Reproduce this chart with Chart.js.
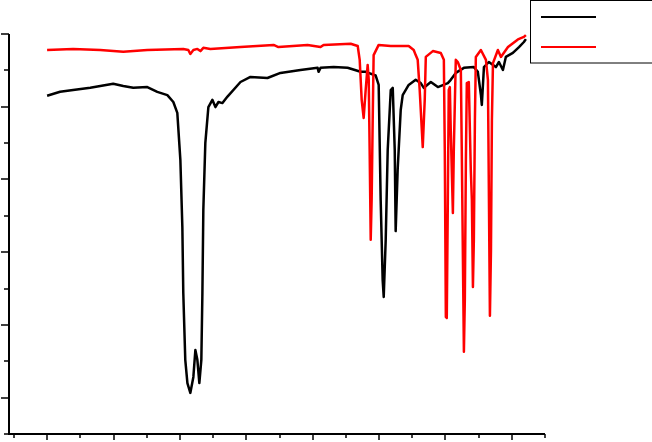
<!DOCTYPE html>
<html>
<head>
<meta charset="utf-8">
<script src="https://cdn.jsdelivr.net/npm/chart.js@4"></script>
<style>
  html, body { margin: 0; padding: 0; background: #fff; }
  #wrap { width: 652px; height: 442px; position: relative; }
</style>
</head>
<body>
<div id="wrap"><canvas id="irChart"></canvas></div>
<script>
// Black spectrum (wavenumber, cm-1 / transmittance, %)
const blackWavenumber = [3751, 3653, 3555, 3426, 3253, 3177, 3102, 2996, 2921, 2845, 2800, 2770, 2747, 2732, 2725, 2710, 2694, 2672, 2649, 2634, 2619, 2604, 2589, 2581, 2574, 2559, 2536, 2506, 2483, 2460, 2430, 2392, 2294, 2219, 2091, 1993, 1842, 1713, 1706, 1691, 1592, 1487, 1389, 1351, 1276, 1253, 1238, 1223, 1215, 1200, 1185, 1162, 1147, 1132, 1125, 1110, 1087, 1072, 1027, 974, 936, 913, 860, 807, 732, 710, 672, 611, 536, 506, 483, 476, 460, 423, 370, 347, 317, 295, 242, 196, 159, 144];
const blackT = [93.0, 94.1, 94.6, 95.2, 96.3, 95.7, 95.2, 95.4, 94.1, 93.2, 91.3, 88.3, 75.4, 56.9, 38.8, 20.4, 14.0, 11.3, 15.7, 23.1, 20.4, 14.0, 20.4, 38.8, 61.6, 80.0, 89.9, 91.9, 89.9, 91.3, 91.0, 92.8, 96.8, 98.2, 97.9, 99.3, 100.1, 100.7, 99.6, 100.7, 100.9, 100.7, 99.6, 99.6, 98.6, 96.0, 64.4, 42.4, 37.7, 53.4, 78.1, 94.6, 95.2, 78.1, 55.8, 72.6, 89.1, 93.2, 96.0, 97.4, 96.5, 95.2, 96.8, 95.4, 96.5, 97.4, 99.3, 100.7, 100.9, 99.6, 93.3, 90.5, 100.9, 102.3, 100.9, 102.3, 100.1, 103.7, 104.8, 106.4, 107.8, 108.6];

// Red spectrum
const redWavenumber = [3751, 3555, 3351, 3177, 2996, 2725, 2687, 2672, 2649, 2619, 2596, 2574, 2521, 2294, 2045, 2008, 1789, 1691, 1668, 1464, 1411, 1396, 1381, 1366, 1351, 1336, 1328, 1321, 1313, 1306, 1298, 1291, 1253, 1162, 1027, 989, 974, 959, 944, 921, 906, 898, 845, 785, 762, 755, 747, 740, 732, 725, 717, 710, 694, 687, 672, 657, 634, 627, 611, 604, 596, 589, 574, 559, 551, 543, 536, 528, 521, 483, 445, 430, 415, 407, 400, 392, 355, 332, 279, 204, 159, 144];
const redT = [105.6, 105.9, 105.6, 105.1, 105.6, 105.9, 105.6, 104.5, 105.6, 105.9, 105.3, 106.2, 105.9, 106.4, 107.0, 106.4, 107.0, 106.4, 107.0, 107.3, 106.7, 102.9, 91.9, 86.9, 94.6, 101.5, 97.4, 78.1, 53.4, 64.4, 86.4, 104.2, 107.0, 106.7, 106.7, 105.6, 104.2, 102.9, 94.6, 78.9, 91.9, 103.7, 105.3, 104.8, 102.9, 78.1, 32.2, 31.9, 64.4, 94.6, 95.4, 83.6, 60.8, 78.1, 102.9, 102.3, 100.1, 78.1, 22.6, 36.9, 75.4, 96.5, 96.8, 72.6, 64.4, 40.4, 53.4, 86.4, 103.7, 105.6, 102.9, 97.4, 32.5, 50.6, 86.4, 102.0, 105.6, 103.7, 106.4, 108.5, 109.2, 109.7];

// Axis ranges and tick values
const xMin = 0, xMax = 4038, xStep = 250;
const yMin = 0, yMax = 110, yStep = 10;

function toPoints(xs, ys) {
    return xs.map((x, i) => ({ x: x, y: ys[i] }));
}

// Draws the axis lines, outside ticks and the legend box
const framePlugin = {
    id: 'frame',
    afterDraw(chart) {
        const ctx = chart.ctx;
        const xs = chart.scales.x;
        const ys = chart.scales.y;
        const area = chart.chartArea;
        ctx.save();
        ctx.strokeStyle = '#000';
        ctx.lineWidth = 2;
        ctx.beginPath();
        ctx.moveTo(area.left, area.top);
        ctx.lineTo(area.left, area.bottom);
        ctx.lineTo(area.right, area.bottom);
        ctx.stroke();

        ctx.lineWidth = 1.5;
        ctx.beginPath();
        for (let v = yMin; v <= yMax; v += yStep) {
            const py = Math.round(ys.getPixelForValue(v));
            const len = (v % 20 === 10) ? 8 : 5;
            ctx.moveTo(area.left - len, py);
            ctx.lineTo(area.left, py);
        }
        for (let v = xMin; v <= 4000; v += xStep) {
            const px = Math.round(xs.getPixelForValue(v));
            const len = (v % 500 === 250) ? 6 : 4;
            ctx.moveTo(px, area.bottom);
            ctx.lineTo(px, area.bottom + len);
        }
        ctx.stroke();

        // legend
        ctx.fillStyle = '#fff';
        ctx.fillRect(530.5, 0.5, 130, 62.5);
        ctx.lineWidth = 1;
        ctx.strokeRect(530.5, 0.5, 130, 62.5);
        ctx.lineWidth = 2;
        ctx.strokeStyle = '#000';
        ctx.beginPath();
        ctx.moveTo(541, 17);
        ctx.lineTo(596, 17);
        ctx.stroke();
        ctx.strokeStyle = '#ff0000';
        ctx.beginPath();
        ctx.moveTo(541, 47);
        ctx.lineTo(596, 47);
        ctx.stroke();
        ctx.restore();
    }
};

new Chart(document.getElementById('irChart').getContext('2d'), {
    type: 'line',
    data: {
        datasets: [
            {
                label: 'black',
                data: toPoints(blackWavenumber, blackT),
                borderColor: '#000000',
                borderWidth: 2.5,
                borderJoinStyle: 'round',
                pointRadius: 0,
                tension: 0,
                order: 2
            },
            {
                label: 'red',
                data: toPoints(redWavenumber, redT),
                borderColor: '#ff0000',
                borderWidth: 2.5,
                borderJoinStyle: 'round',
                pointRadius: 0,
                tension: 0,
                order: 1
            }
        ]
    },
    options: {
        responsive: true,
        maintainAspectRatio: false,
        animation: false,
        layout: { padding: { left: 9, right: 107, top: 34, bottom: 8 } },
        plugins: { legend: { display: false }, tooltip: { enabled: false } },
        scales: {
            x: { type: 'linear', display: false, reverse: true, min: xMin, max: xMax },
            y: { type: 'linear', display: false, min: yMin, max: yMax }
        }
    },
    plugins: [framePlugin]
});
</script>
</body>
</html>
